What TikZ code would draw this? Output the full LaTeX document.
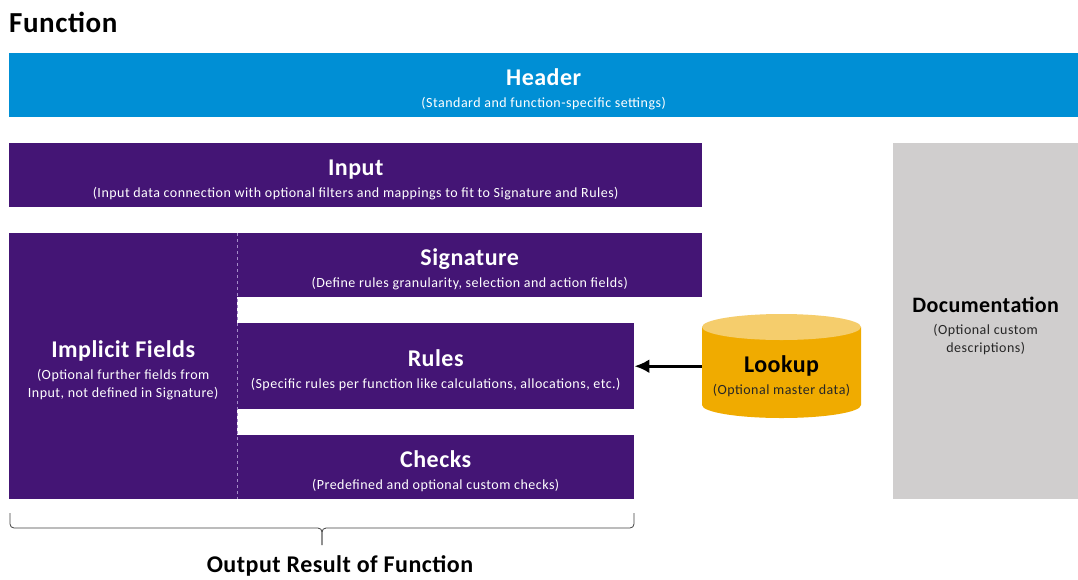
\documentclass[tikz,border=0pt]{standalone}
\usepackage{fontspec}
\setmainfont{Carlito}
\newfontfamily\headfam[LetterSpace=2]{Carlito}
\newfontfamily\notefam[LetterSpace=3.5]{Carlito}
\usetikzlibrary{arrows.meta}

\definecolor{hdrblue}{RGB}{0,143,213}
\definecolor{fnpurple}{RGB}{68,21,117}
\definecolor{docgray}{RGB}{208,206,206}
\definecolor{lookgold}{RGB}{240,171,0}
\definecolor{looktop}{RGB}{245,205,108}
\definecolor{dashlilac}{RGB}{165,140,200}

\newcommand{\headfont}{\headfam\bfseries\fontsize{24}{28}\selectfont}
\newcommand{\notefont}{\notefam\fontsize{14}{18}\selectfont}
% title line of a box, with a strut to set it a little lower
\newcommand{\boxhead}[1]{\rule{0pt}{24pt}{\headfont #1}\\[4pt]}

\tikzset{
  part/.style={anchor=north west, inner sep=0pt, align=center, fill=fnpurple,
    text=white, font=\notefont},
  divider/.style={dashed, thin, dashlilac},
  bracepath/.style={rounded corners=4pt, line width=0.8pt, black!75},
}

\begin{document}
\begin{tikzpicture}[x=1pt,y=-1pt]
\useasboundingbox (0,0) rectangle (1078,579);

\node[anchor=west, inner sep=0pt, font=\headfam\bfseries\fontsize{29}{33}\selectfont] (title) at (9,22) {Function};

% header bar and input
\node[part, fill=hdrblue, minimum width=1069, minimum height=64] (header) at (9,53)
  {\boxhead{Header}(Standard and function-specific settings)};
\node[part, minimum width=693, minimum height=64] (input) at (9,143)
  {\boxhead{Input}(Input data connection with optional filters and mappings to fit to Signature and Rules)};

% function body
\node[part, minimum width=228, minimum height=266] (implicit) at (9,233)
  {\boxhead{Implicit Fields}(Optional further fields from\\Input, not defined in Signature)};
\node[part, minimum width=465, minimum height=64] (signature) at (237,233)
  {\boxhead{Signature}(Define rules granularity, selection and action fields)};
\node[part, minimum width=397, minimum height=86] (rules) at (237,323)
  {\boxhead{Rules}(Specific rules per function like calculations, allocations, etc.)};
\node[part, minimum width=397, minimum height=64] (checks) at (237,435)
  {\boxhead{Checks}(Predefined and optional custom checks)};
\draw[divider] (implicit.north east) -- (implicit.south east);

\node[part, fill=docgray, text=black!85, minimum width=185, minimum height=356] (docs) at (893,143)
  {\rule{0pt}{24pt}{\headfont\fontsize{22}{26}\selectfont\color{black}Documentation}\\[4pt](Optional custom\\descriptions)};

% lookup cylinder
\fill[lookgold] (702,327) -- (702,405) arc[start angle=180, end angle=0, x radius=79.5, y radius=13] -- (861,327) -- cycle;
\fill[looktop] (781.5,327) ellipse[x radius=79.5, y radius=13];
\node[inner sep=0pt, minimum width=159, minimum height=100, align=center, text=black!85, font=\notefont] (lookup) at (781.5,373)
  {\boxhead{\color{black}Lookup}(Optional master data)};
\draw[-{Latex[length=15pt,width=14pt]}, line width=3pt] (lookup.west |- rules.east) -- (rules.east);

% output brace
\coordinate (bl) at (10,513);
\coordinate (br) at (634,513);
\coordinate (bmid) at (322,528);
\coordinate (btip) at (322,545);
\draw[bracepath] (bl) |- (bmid) -- (btip);
\draw[bracepath] (br) |- (bmid) -- (btip);
\node[font=\headfont, inner sep=0pt] (output) at (340,566) {Output Result of Function};
\end{tikzpicture}
\end{document}
